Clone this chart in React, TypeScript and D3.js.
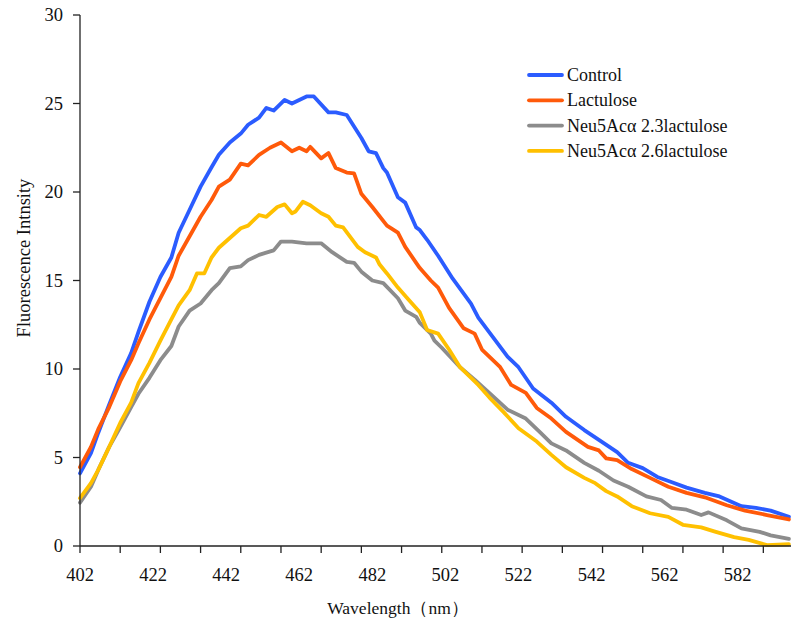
import React from "react";
import * as d3 from "d3";

const controlData: [number, number][] = [
  [402, 4.1], [405, 5.25], [407, 6.4], [410, 8.0], [413, 9.55], [416, 10.9], [418, 12.1], [421, 13.8],
  [424, 15.2], [427, 16.3], [429, 17.7], [432, 19.0], [435, 20.3], [438, 21.4], [440, 22.1], [443, 22.8],
  [446, 23.3], [448, 23.8], [451, 24.2], [453, 24.75], [455, 24.6], [458, 25.2], [460, 25.0], [464, 25.4],
  [466, 25.4], [470, 24.5], [472, 24.5], [475, 24.35], [479, 23.05], [481, 22.3], [483, 22.2], [485, 21.35],
  [486, 21.1], [489, 19.7], [491, 19.4], [494, 18.0], [495, 17.85], [497, 17.3], [500, 16.4], [504, 15.1],
  [509, 13.7], [511, 12.9], [515, 11.8], [519, 10.7], [522, 10.1], [526, 8.9], [531, 8.1], [535, 7.3],
  [540, 6.55], [544, 6.0], [549, 5.3], [552, 4.7], [556, 4.4], [560, 3.9], [564, 3.6], [568, 3.3],
  [573, 3.0], [577, 2.8], [583, 2.25], [587, 2.15], [591, 2.0], [596, 1.65],
];

const lactuloseData: [number, number][] = [
  [402, 4.45], [405, 5.6], [407, 6.6], [410, 7.85], [413, 9.3], [416, 10.5], [418, 11.45], [421, 12.8],
  [424, 14.0], [427, 15.2], [429, 16.4], [432, 17.5], [435, 18.6], [438, 19.55], [440, 20.3], [443, 20.7],
  [446, 21.6], [448, 21.5], [451, 22.1], [454, 22.5], [457, 22.8], [460, 22.3], [462, 22.5], [464, 22.3],
  [465, 22.55], [468, 21.9], [470, 22.2], [472, 21.35], [475, 21.1], [477, 21.05], [479, 19.9], [482, 19.15],
  [486, 18.1], [489, 17.7], [491, 16.9], [494, 16.0], [495, 15.7], [498, 15.0], [500, 14.6], [503, 13.45],
  [507, 12.3], [510, 12.0], [512, 11.1], [517, 10.1], [520, 9.1], [524, 8.65], [527, 7.8], [531, 7.2],
  [535, 6.45], [541, 5.6], [544, 5.4], [546, 4.95], [549, 4.85], [553, 4.35], [558, 3.85], [563, 3.35],
  [568, 3.0], [573, 2.75], [579, 2.3], [584, 2.0], [590, 1.75], [596, 1.5],
];

const neu23Data: [number, number][] = [
  [402, 2.45], [405, 3.35], [407, 4.3], [410, 5.6], [413, 6.7], [416, 7.85], [418, 8.6], [421, 9.5],
  [424, 10.5], [427, 11.3], [429, 12.4], [432, 13.3], [435, 13.7], [438, 14.45], [440, 14.85], [443, 15.7],
  [446, 15.8], [448, 16.15], [451, 16.45], [455, 16.7], [457, 17.2], [460, 17.2], [464, 17.1], [468, 17.1],
  [471, 16.6], [475, 16.05], [477, 16.0], [479, 15.5], [482, 15.0], [485, 14.85], [489, 14.0], [491, 13.3],
  [494, 12.95], [495, 12.6], [498, 12.0], [499, 11.6], [501, 11.2], [506, 10.1], [510, 9.4], [514, 8.65],
  [519, 7.7], [524, 7.2], [528, 6.4], [531, 5.8], [535, 5.4], [540, 4.7], [544, 4.25], [548, 3.7],
  [552, 3.35], [557, 2.8], [561, 2.6], [564, 2.15], [568, 2.05], [572, 1.75], [574, 1.9], [579, 1.45],
  [583, 1.0], [588, 0.8], [591, 0.6], [596, 0.4],
];

const neu26Data: [number, number][] = [
  [402, 2.7], [405, 3.55], [407, 4.3], [410, 5.6], [413, 6.95], [416, 8.1], [418, 9.2], [421, 10.35],
  [424, 11.6], [427, 12.8], [429, 13.6], [432, 14.45], [434, 15.4], [436, 15.4], [438, 16.3], [440, 16.85],
  [443, 17.4], [446, 17.95], [448, 18.1], [451, 18.7], [453, 18.6], [456, 19.15], [458, 19.3], [460, 18.8],
  [461, 18.9], [463, 19.45], [465, 19.25], [468, 18.8], [470, 18.6], [472, 18.1], [474, 18.0], [478, 16.9],
  [480, 16.6], [483, 16.3], [484, 15.9], [486, 15.4], [489, 14.6], [492, 13.9], [495, 13.2], [497, 12.2],
  [500, 12.0], [503, 11.1], [506, 10.1], [511, 9.1], [514, 8.4], [518, 7.55], [522, 6.65], [527, 5.9],
  [531, 5.15], [535, 4.45], [540, 3.85], [543, 3.55], [546, 3.1], [549, 2.8], [553, 2.25], [558, 1.85],
  [563, 1.65], [567, 1.2], [572, 1.05], [576, 0.8], [581, 0.5], [585, 0.35], [590, 0.05], [596, 0.1],
];

const seriesNames = ["Control", "Lactulose", "Neu5Acα 2.3lactulose", "Neu5Acα 2.6lactulose"];
const seriesColors = ["#2b5cff", "#ff5a0a", "#8c8c8c", "#ffc000"];
const seriesData = [controlData, lactuloseData, neu23Data, neu26Data];

const yTicks = [0, 5, 10, 15, 20, 25, 30];
const xLabelTicks = [402, 422, 442, 462, 482, 502, 522, 542, 562, 582];
const xMarkTicks = d3.range(402, 596, 11);

const W = 791;
const H = 621;
const left = 80;
const right = 790;
const top = 15;
const bottom = 546;

const FONT = "Liberation Serif";
const tStyle = { fontFamily: FONT };

export default function App() {
  const x = d3.scaleLinear().domain([402, 596.3]).range([left, right]);
  const y = d3.scaleLinear().domain([0, 30]).range([bottom, top]);
  const line = d3
    .line<[number, number]>()
    .x((d) => x(d[0]))
    .y((d) => y(d[1]));

  return (
    <svg
      width={W}
      height={H}
      style={{ position: "absolute", left: 0, top: 0, background: "#fff", fontFamily: FONT }}
    >
      <rect x={0} y={0} width={W} height={H} fill="#fff" />
      {seriesData.map((d, i) => (
        <path
          key={i}
          d={line(d) || ""}
          fill="none"
          stroke={seriesColors[i]}
          strokeWidth={3.8}
          strokeLinejoin="round"
          strokeLinecap="round"
        />
      ))}
      <line x1={left} x2={left} y1={top} y2={bottom} stroke="#222" strokeWidth={1.3} />
      {yTicks.map((t) => (
        <g key={t}>
          <line x1={left - 7} x2={left} y1={y(t)} y2={y(t)} stroke="#222" strokeWidth={1.3} />
          <text x={63} y={y(t) + 6} textAnchor="end" fontSize={18.5} fill="#111" style={tStyle}>
            {t}
          </text>
        </g>
      ))}
      <line x1={left} x2={W} y1={bottom} y2={bottom} stroke="#222" strokeWidth={1.3} />
      {xMarkTicks.map((t) => (
        <line key={t} x1={x(t)} x2={x(t)} y1={bottom} y2={bottom + 7} stroke="#222" strokeWidth={1.3} />
      ))}
      {xLabelTicks.map((t) => (
        <text key={t} x={x(t)} y={581} textAnchor="middle" fontSize={18.5} fill="#111" style={tStyle}>
          {t}
        </text>
      ))}
      <text x={398} y={614} textAnchor="middle" fontSize={17.5} fill="#111" style={tStyle}>
        Wavelength（nm）
      </text>
      <text
        transform={`translate(30, 258) rotate(-90)`}
        textAnchor="middle"
        fontSize={18.5}
        fill="#111"
        style={tStyle}
      >
        Fluorescence Intnsity
      </text>
      {seriesNames.map((n, i) => (
        <g key={n}>
          <line
            x1={529}
            x2={562}
            y1={75 + i * 25.3}
            y2={75 + i * 25.3}
            stroke={seriesColors[i]}
            strokeWidth={3.8}
            strokeLinecap="round"
          />
          <text x={567} y={75 + i * 25.3 + 6} fontSize={18} fill="#111" style={tStyle}>
            {n}
          </text>
        </g>
      ))}
    </svg>
  );
}
